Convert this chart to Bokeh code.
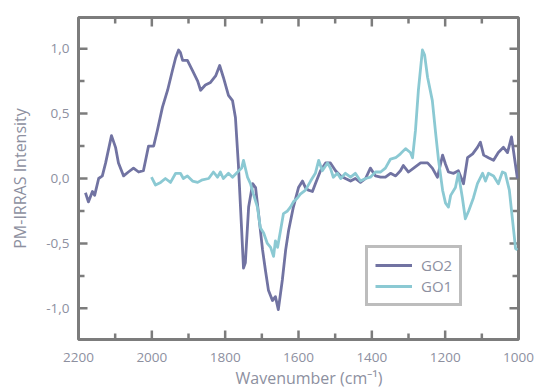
from bokeh.plotting import figure
from bokeh.models import Range1d, LinearAxis, FixedTicker, CustomJSTickFormatter, Legend, LegendItem, Title
from bokeh.embed import file_html
from bokeh.resources import INLINE

go2_x = [2181, 2173, 2162, 2156, 2145, 2135, 2126, 2110, 2099, 2091, 2077, 2064, 2050, 2036, 2023,
         2017, 2009, 1995, 1985, 1971, 1957, 1944, 1935, 1927, 1922, 1916, 1903, 1889, 1875, 1867,
         1854, 1840, 1826, 1815, 1805, 1791, 1780, 1772, 1764, 1755, 1750, 1745, 1736, 1725, 1717,
         1709, 1698, 1690, 1682, 1671, 1663, 1655, 1644, 1635, 1627, 1614, 1600, 1589, 1581, 1573,
         1562, 1554, 1540, 1526, 1513, 1499, 1485, 1472, 1458, 1445, 1431, 1417, 1404, 1390, 1376,
         1363, 1349, 1335, 1322, 1314, 1300, 1286, 1267, 1248, 1235, 1221, 1207, 1199, 1191, 1177,
         1164, 1150, 1139, 1125, 1112, 1104, 1095, 1082, 1068, 1055, 1041, 1030, 1019, 1014, 1003]
go2_y = [-0.11, -0.18, -0.10, -0.13, 0.0, 0.02, 0.12, 0.33, 0.24, 0.12, 0.02, 0.05, 0.08, 0.05, 0.06,
         0.14, 0.25, 0.25, 0.37, 0.55, 0.68, 0.83, 0.93, 0.99, 0.97, 0.91, 0.91, 0.83, 0.75, 0.68,
         0.72, 0.74, 0.79, 0.87, 0.78, 0.64, 0.60, 0.47, 0.11, -0.40, -0.69, -0.65, -0.22, -0.04, -0.07,
         -0.27, -0.55, -0.71, -0.86, -0.94, -0.91, -1.01, -0.78, -0.55, -0.40, -0.22, -0.07, -0.02, -0.07, -0.09,
         -0.10, -0.04, 0.06, 0.12, 0.12, 0.06, 0.02, 0.0, -0.02, 0.0, -0.03, 0.0, 0.08, 0.02, 0.01,
         0.01, 0.04, 0.02, 0.06, 0.10, 0.05, 0.08, 0.12, 0.12, 0.08, 0.01, 0.18, 0.11, 0.05, 0.04,
         0.06, -0.04, 0.16, 0.19, 0.24, 0.28, 0.18, 0.16, 0.14, 0.20, 0.24, 0.20, 0.32, 0.22, 0.0]

go1_x = [2001, 1990, 1976, 1963, 1949, 1935, 1922, 1914, 1903, 1889, 1875, 1862, 1845, 1832, 1821,
         1813, 1805, 1791, 1780, 1766, 1755, 1750, 1739, 1731, 1723, 1712, 1704, 1695, 1685, 1676,
         1668, 1663, 1657, 1649, 1641, 1630, 1622, 1614, 1603, 1595, 1581, 1567, 1554, 1545, 1535,
         1521, 1513, 1505, 1494, 1485, 1472, 1458, 1445, 1431, 1417, 1404, 1390, 1376, 1363, 1349,
         1335, 1322, 1308, 1295, 1289, 1281, 1273, 1262, 1256, 1248, 1235, 1226, 1218, 1207, 1199,
         1191, 1185, 1172, 1164, 1153, 1145, 1136, 1123, 1112, 1098, 1090, 1082, 1068, 1055, 1044,
         1036, 1025, 1014, 1008, 1003]
go1_y = [0.01, -0.05, -0.03, 0.0, -0.03, 0.04, 0.04, 0.0, 0.02, -0.02, -0.03, -0.01, 0.0, 0.05, 0.01,
         0.05, 0.0, 0.04, 0.01, 0.05, 0.08, 0.14, 0.01, -0.04, -0.12, -0.22, -0.38, -0.42, -0.50, -0.53,
         -0.60, -0.48, -0.53, -0.40, -0.27, -0.25, -0.22, -0.18, -0.15, -0.12, -0.09, -0.02, 0.04, 0.14, 0.06,
         0.12, 0.08, 0.01, 0.04, 0.0, 0.04, 0.01, 0.04, -0.02, 0.0, 0.01, 0.05, 0.05, 0.08, 0.15,
         0.16, 0.19, 0.23, 0.20, 0.16, 0.37, 0.68, 0.99, 0.95, 0.78, 0.60, 0.35, 0.14, -0.09, -0.19,
         -0.22, -0.13, -0.07, 0.04, -0.15, -0.31, -0.25, -0.15, -0.04, 0.04, -0.02, 0.04, 0.02, -0.04, 0.05,
         0.04, -0.09, -0.38, -0.54, -0.55]

x_major = [2200, 2000, 1800, 1600, 1400, 1200, 1000]
x_minor = [2100, 1900, 1700, 1500, 1300, 1100]
y_major = [-1.0, -0.5, 0.0, 0.5, 1.0]
y_minor = [-0.75, -0.25, 0.25, 0.75]

X_LO, X_HI = 2200, 1000
Y_LO, Y_HI = -1.24, 1.24
FRAME_W, FRAME_H = 440, 322

GRAY = "#7c7c7c"
TXT = "#8d909f"
FONT = "Open Sans"
C_GO2 = "#7173a2"
C_GO1 = "#8bc9d3"

p = figure(width=537, height=392, output_backend="svg", toolbar_location=None,
           x_range=Range1d(X_LO, X_HI), y_range=Range1d(Y_LO, Y_HI),
           x_axis_location=None, y_axis_location=None,
           min_border_left=78, min_border_right=19, min_border_top=17, min_border_bottom=53)
p.grid.visible = False
p.outline_line_color = GRAY
p.outline_line_width = 3
p.background_fill_color = "white"
p.border_fill_color = "white"

fmt = CustomJSTickFormatter(code="return tick.toFixed(1).replace('.', ',');")


def make_axis(ticks, minor):
    ax = LinearAxis(ticker=FixedTicker(ticks=ticks, minor_ticks=minor))
    ax.axis_line_color = None
    ax.major_tick_line_color = None
    ax.minor_tick_line_color = None
    ax.major_tick_in = 0
    ax.major_tick_out = 0
    ax.minor_tick_in = 0
    ax.minor_tick_out = 0
    ax.major_label_text_color = TXT
    ax.major_label_text_font = FONT
    ax.major_label_text_font_size = "13.5px"
    ax.axis_label_text_color = TXT
    ax.axis_label_text_font = FONT
    ax.axis_label_text_font_size = "16px"
    ax.axis_label_text_font_style = "normal"
    return ax


bottom = make_axis(x_major, x_minor)
bottom.major_label_standoff = 13
left = make_axis(y_major, y_minor)
left.formatter = fmt
left.axis_label = "PM-IRRAS Intensity"
left.major_label_standoff = 9
left.axis_label_standoff = 12
p.add_layout(bottom, "below")
p.add_layout(left, "left")

xt = Title(text="Wavenumber (cm⁻¹)", align="left", offset=157, text_color=TXT, text_font=FONT,
           text_font_size="16px", text_font_style="normal", standoff=0)
p.add_layout(xt, "below")

# inward tick marks drawn as segments (length in pixels converted to data units)
px_x = (X_LO - X_HI) / FRAME_W   # data units per pixel, x
px_y = (Y_HI - Y_LO) / FRAME_H   # data units per pixel, y
MAJ, MIN = 9, 6
for xs, L in ((x_major, MAJ), (x_minor, MIN)):
    n = len(xs)
    p.segment(x0=xs, y0=[Y_LO] * n, x1=xs, y1=[Y_LO + L * px_y] * n, line_color=GRAY, line_width=2.5)
    p.segment(x0=xs, y0=[Y_HI] * n, x1=xs, y1=[Y_HI - L * px_y] * n, line_color=GRAY, line_width=2.5)
for ys, L in ((y_major, MAJ), (y_minor, MIN)):
    n = len(ys)
    p.segment(x0=[X_LO] * n, y0=ys, x1=[X_LO - L * px_x] * n, y1=ys, line_color=GRAY, line_width=2.5)
    p.segment(x0=[X_HI] * n, y0=ys, x1=[X_HI + L * px_x] * n, y1=ys, line_color=GRAY, line_width=2.5)

r2 = p.line(go2_x, go2_y, line_color=C_GO2, line_width=2.8, line_join="round")
r1 = p.line(go1_x, go1_y, line_color=C_GO1, line_width=2.8, line_join="round")

legend = Legend(items=[LegendItem(label="GO2", renderers=[r2]), LegendItem(label="GO1", renderers=[r1])],
                location=(287, 33))
legend.border_line_color = GRAY
legend.border_line_width = 3
legend.label_text_color = TXT
legend.label_text_font = FONT
legend.label_text_font_size = "15px"
legend.glyph_width = 37
legend.glyph_height = 20
legend.label_height = 20
legend.spacing = 1
legend.padding = 7
legend.margin = 0
legend.label_standoff = 9
p.add_layout(legend, "center")

open("out.html", "w").write(file_html(p, INLINE))
